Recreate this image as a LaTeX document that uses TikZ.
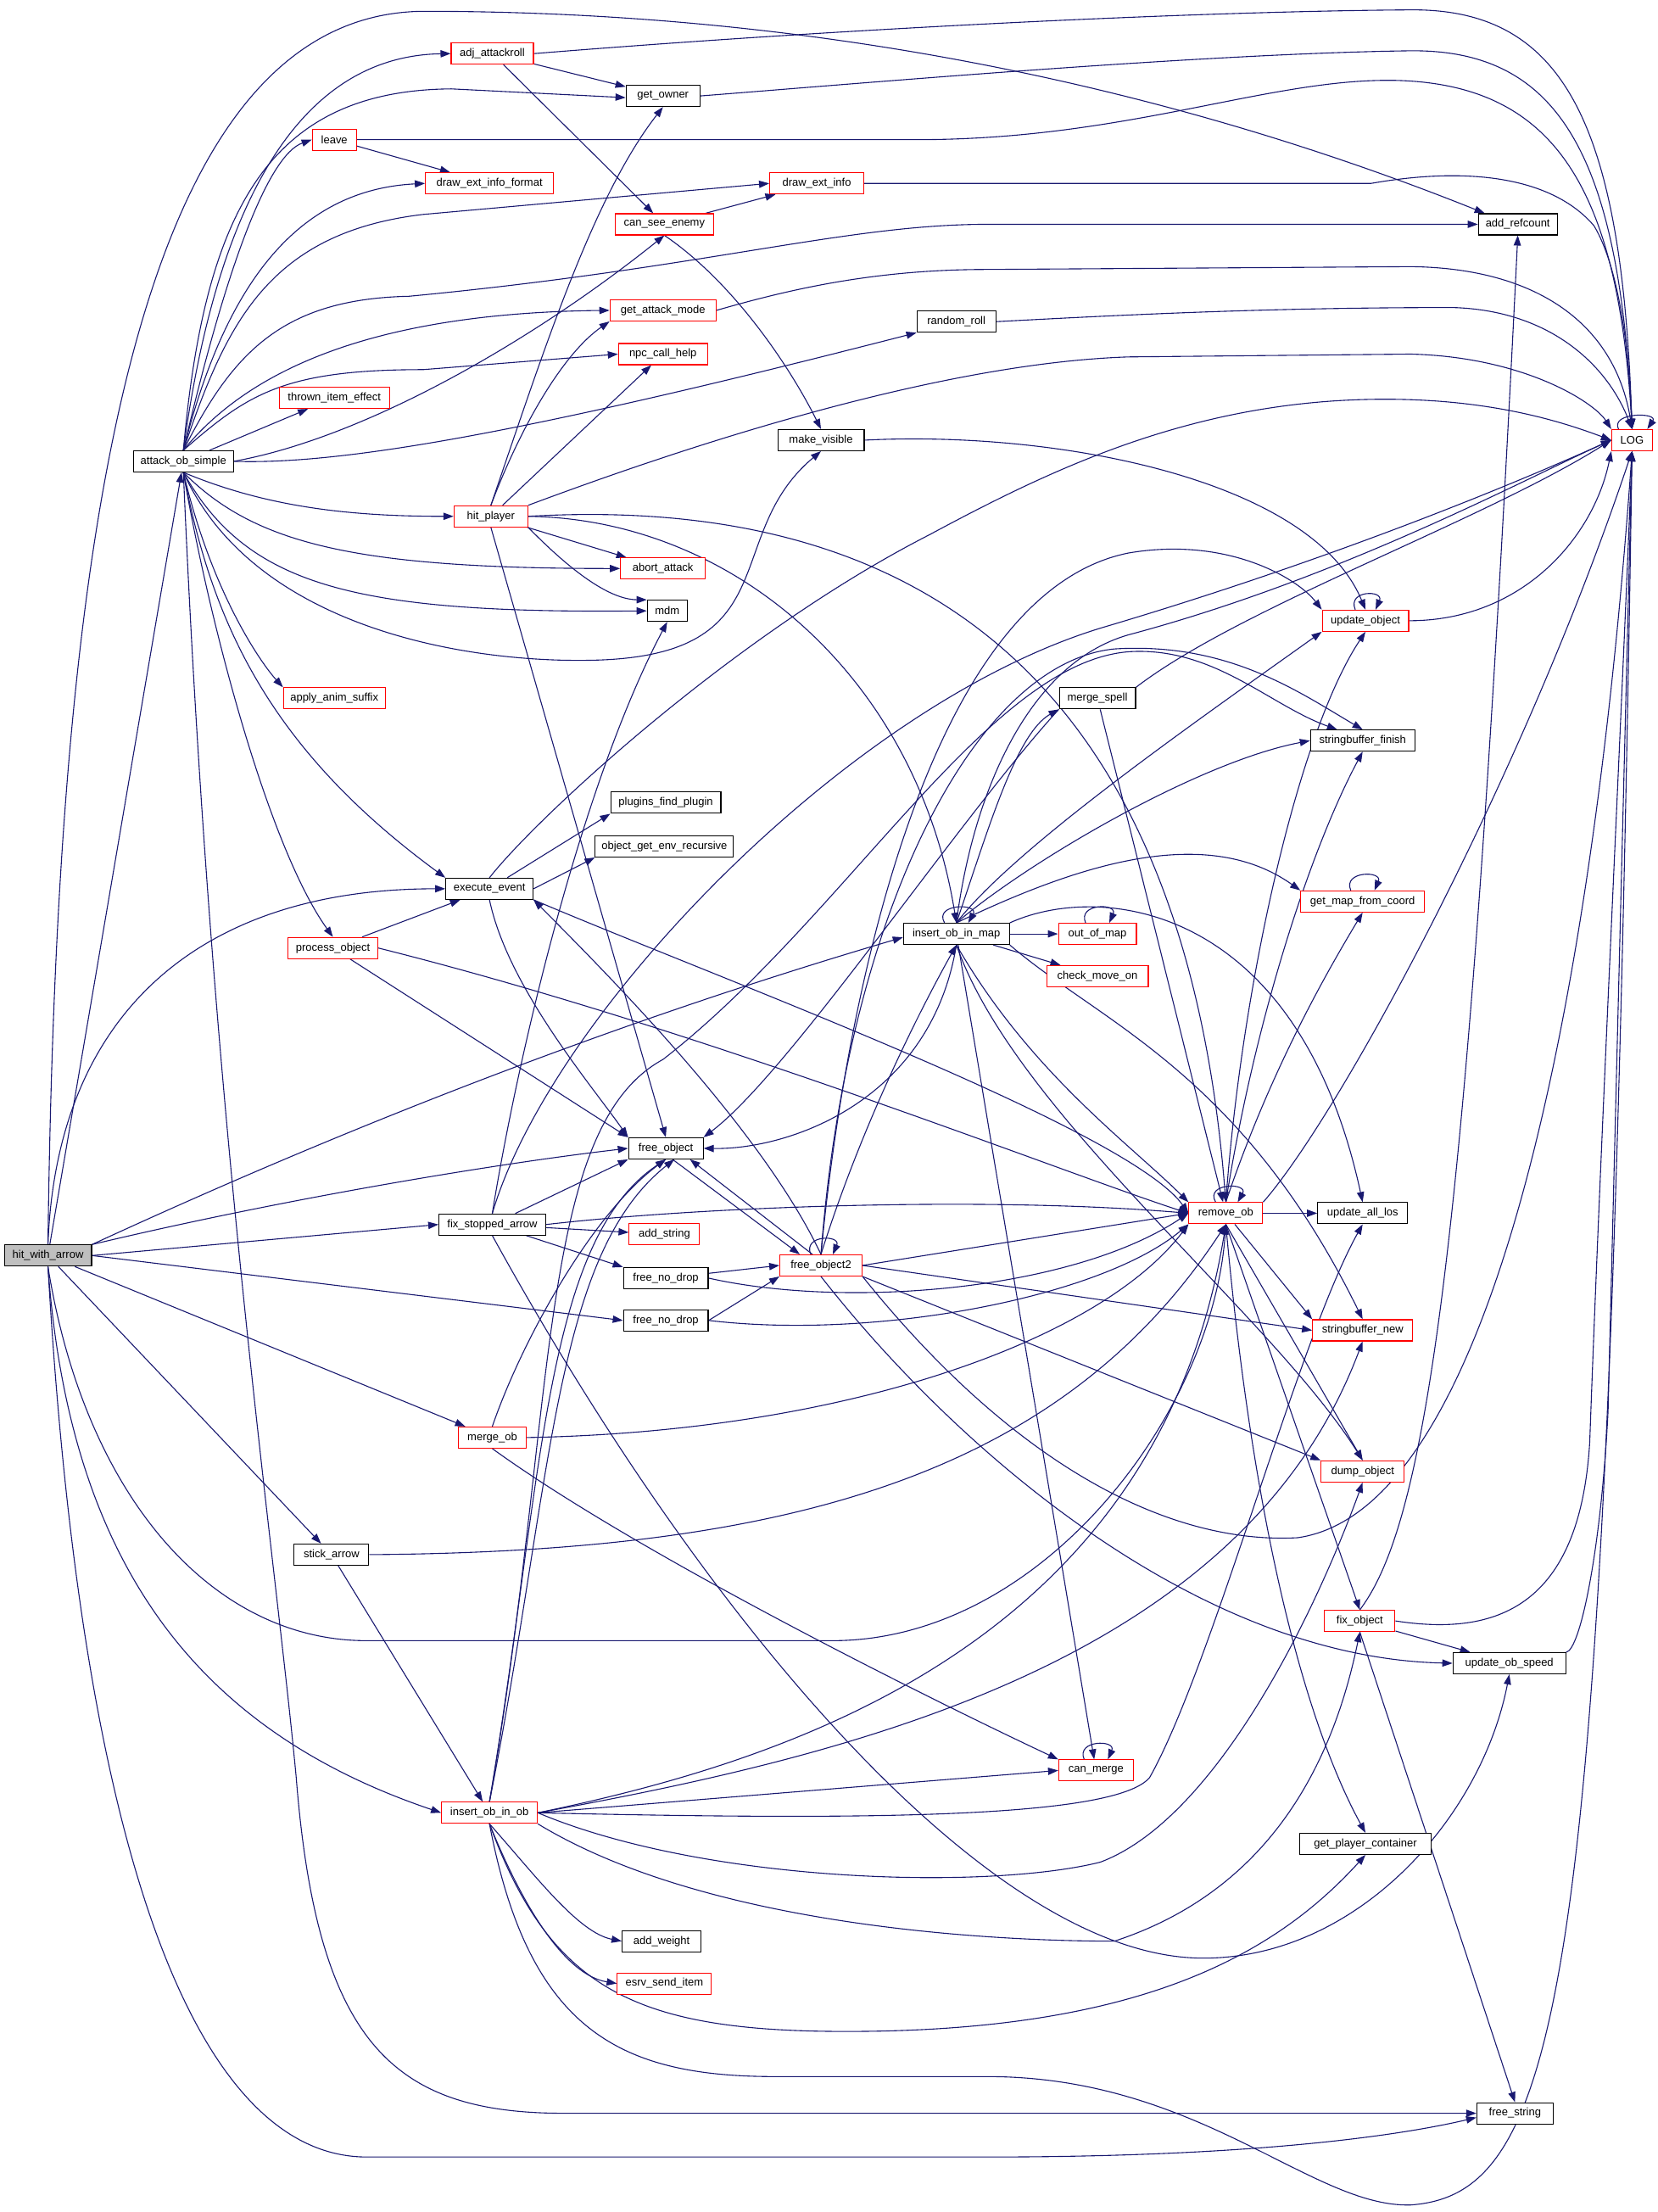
\documentclass[tikz,border=0pt]{standalone}
\usepackage{fontspec}
\setmainfont{Liberation Sans}
\usetikzlibrary{arrows.meta}
\definecolor{edgec}{HTML}{191970}
\definecolor{hwagray}{HTML}{BFBFBF}
\pgfdeclarelayer{back}
\pgfdeclarelayer{bg}
\pgfsetlayers{back,bg,main}
\begin{document}
\begin{tikzpicture}[x=1.664pt,y=-1.664pt,
  blk/.style={draw=black,line width=1.1pt,fill=white,inner sep=0pt,minimum height=25pt,font=\fontsize{13}{15}\selectfont,text=black},
  rbox/.style={blk,draw=red},
  e/.style={draw=edgec,line width=1.1pt,-{Triangle[length=12pt,width=8.5pt]}}]
\useasboundingbox (0,0) rectangle (1175,1568);
\begin{pgfonlayer}{back}
\fill[white] (0,0) rectangle (1175,1568);
\end{pgfonlayer}
% nodes
\node[blk,fill=hwagray,minimum width=103pt] (HWA) at (34,890) {hit\_with\_arrow};
\node[blk,minimum width=118pt] (AOS) at (130,327) {attack\_ob\_simple};
\node[rbox,minimum width=97pt] (AA) at (349,38) {adj\_attackroll};
\node[blk,minimum width=87pt] (GO) at (470,68) {get\_owner};
\node[rbox,minimum width=52pt] (LV) at (237,99) {leave};
\node[rbox,minimum width=151pt] (DEIF) at (347,130) {draw\_ext\_info\_format};
\node[rbox,minimum width=111pt] (DEI) at (579,130) {draw\_ext\_info};
\node[rbox,minimum width=116pt] (CSE) at (471,159) {can\_see\_enemy};
\node[blk,minimum width=93pt] (AR) at (1076,159) {add\_refcount};
\node[rbox,minimum width=125pt] (GAM) at (470,220) {get\_attack\_mode};
\node[blk,minimum width=93pt] (RR) at (678,228) {random\_roll};
\node[rbox,minimum width=105pt] (NCH) at (470,251) {npc\_call\_help};
\node[rbox,minimum width=130pt] (TIE) at (237,282) {thrown\_item\_effect};
\node[blk,minimum width=102pt] (MV) at (582,312) {make\_visible};
\node[rbox,minimum width=48pt] (LOG) at (1157,312) {LOG};
\node[rbox,minimum width=87pt] (HP) at (348,366) {hit\_player};
\node[rbox,minimum width=100pt] (AB) at (470,403) {abort\_attack};
\node[blk,minimum width=47pt] (MDM) at (473,433) {mdm};
\node[rbox,minimum width=102pt] (UO) at (968,440) {update\_object};
\node[rbox,minimum width=120pt] (AAS) at (237,495) {apply\_anim\_suffix};
\node[blk,minimum width=90pt] (MS) at (778,495) {merge\_spell};
\node[blk,minimum width=123pt] (SBF) at (966,525) {stringbuffer\_finish};
\node[blk,minimum width=130pt] (PFP) at (472,569) {plugins\_find\_plugin};
\node[blk,minimum width=163pt] (OGER) at (471,600) {object\_get\_env\_recursive};
\node[blk,minimum width=103pt] (EE) at (347,630) {execute\_event};
\node[rbox,minimum width=146pt] (GMFC) at (966,639) {get\_map\_from\_coord};
\node[blk,minimum width=125pt] (IOM) at (678,662) {insert\_ob\_in\_map};
\node[rbox,minimum width=92pt] (OOM) at (778,662) {out\_of\_map};
\node[rbox,minimum width=106pt] (PO) at (236,672) {process\_object};
\node[rbox,minimum width=120pt] (CMO) at (778,692) {check\_move\_on};
\node[blk,minimum width=88pt] (FO) at (472,814) {free\_object};
\node[rbox,minimum width=87pt] (RO) at (869,860) {remove\_ob};
\node[blk,minimum width=106pt] (UAL) at (966,860) {update\_all\_los};
\node[blk,minimum width=126pt] (FSA) at (349,868) {fix\_stopped\_arrow};
\node[rbox,minimum width=83pt] (AS) at (471,875) {add\_string};
\node[rbox,minimum width=97pt] (FO2) at (582,897) {free\_object2};
\node[blk,minimum width=100pt] (FND1) at (472,906) {free\_no\_drop};
\node[blk,minimum width=100pt] (FND2) at (472,936) {free\_no\_drop};
\node[rbox,minimum width=118pt] (SBN) at (966,943) {stringbuffer\_new};
\node[rbox,minimum width=80pt] (MO) at (349,1019) {merge\_ob};
\node[rbox,minimum width=98pt] (DO) at (966,1043) {dump\_object};
\node[blk,minimum width=88pt] (SA) at (235,1102) {stick\_arrow};
\node[rbox,minimum width=83pt] (FXO) at (964,1149) {fix\_object};
\node[blk,minimum width=133pt] (UOS) at (1070,1179) {update\_ob\_speed};
\node[rbox,minimum width=88pt] (CM) at (777,1255) {can\_merge};
\node[rbox,minimum width=113pt] (IOB) at (347,1285) {insert\_ob\_in\_ob};
\node[blk,minimum width=155pt] (GPC) at (968,1307) {get\_player\_container};
\node[blk,minimum width=93pt] (AW) at (469,1376) {add\_weight};
\node[rbox,minimum width=111pt] (ESI) at (471,1406) {esrv\_send\_item};
\node[blk,minimum width=90pt] (FS) at (1074,1498) {free\_string};

\begin{pgfonlayer}{bg}
% hit_with_arrow
\draw[e] (HWA) -- (AOS);
\draw[e] (HWA.north) .. controls (40,400) and (90,10) .. (300,8) .. controls (600,8) and (850,70) .. ([xshift=8pt]AR.north west);
\draw[e] (HWA.north) .. controls (40,720) and (140,630) .. (EE.west);
\draw[e] (HWA.north east) .. controls (200,820) and (400,735) .. ([yshift=-4pt]IOM.west);
\draw[e] (HWA.north east) .. controls (200,850) and (350,825) .. (FO.west);
\draw[e] (HWA.east) -- (FSA.west);
\draw[e] (HWA.east) -- (FND2.west);
\draw[e] (HWA) -- (MO);
\draw[e] (HWA) -- (SA);
\draw[e] (HWA.south) .. controls (60,1060) and (150,1163) .. (260,1163) -- (590,1163) .. controls (740,1163) and (860,1000) .. (RO.south);
\draw[e] (HWA.south) .. controls (50,1120) and (150,1230) .. (IOB.west);
\draw[e] (HWA.south) .. controls (60,1350) and (150,1529) .. (260,1529) -- (700,1529) .. controls (900,1529) and (1000,1512) .. ([yshift=-5pt]FS.west);
% attack_ob_simple
\draw[e] (AOS.north) .. controls (150,170) and (200,40) .. (AA.west);
\draw[e] (AOS.north) .. controls (145,150) and (190,64) .. (320,63) -- ([yshift=-2pt]GO.west);
\draw[e] (AOS.north) .. controls (160,190) and (190,110) .. (LV.west);
\draw[e] (AOS.north) .. controls (155,220) and (200,135) .. (DEIF.west);
\draw[e] (AOS.north) .. controls (160,230) and (190,165) .. (300,152) -- (DEI.west);
\draw[e] (AOS.north) .. controls (165,250) and (200,212) .. (290,210) .. controls (500,190) and (600,159) .. (700,159) -- (AR.west);
\draw[e] (AOS.north) .. controls (170,270) and (250,222) .. (GAM.west);
\draw[e] (AOS.north) .. controls (175,280) and (200,262) .. (300,262) -- (NCH.west);
\draw[e] (AOS) -- (TIE);
\draw[e] (AOS.east) .. controls (260,310) and (380,240) .. (CSE.south);
\draw[e] (AOS.east) .. controls (250,330) and (400,300) .. (RR.south west);
\draw[e] (AOS.south) .. controls (190,360) and (250,366) .. (HP.west);
\draw[e] (AOS.south) .. controls (180,385) and (250,403) .. (AB.west);
\draw[e] (AOS.south) .. controls (175,415) and (250,435) .. (MDM.west);
\draw[e] (AOS.south) .. controls (180,445) and (330,470) .. (420,468) .. controls (560,465) and (510,380) .. (MV.south);
\draw[e] (AOS.south) .. controls (150,420) and (185,470) .. (AAS.north west);
\draw[e] (AOS.south) .. controls (150,440) and (190,530) .. (EE.north west);
\draw[e] (AOS.south) .. controls (148,440) and (190,600) .. (PO.north);
\draw[e] (AOS.south) .. controls (150,800) and (195,1100) .. (210,1260) .. controls (225,1450) and (280,1498) .. (400,1498) -- (FS.west);
% adj_attackroll, leave, get_owner
\draw[e] (AA) -- (GO);
\draw[e] (AA) -- (CSE);
\draw[e] (AA.east) .. controls (600,20) and (850,8) .. (1000,7) .. controls (1110,6) and (1150,90) .. (LOG.north);
\draw[e] (LV) -- (DEIF);
\draw[e] (LV.east) -- (650,99) .. controls (800,99) and (900,55) .. (990,57) .. controls (1100,60) and (1147,130) .. (LOG.north);
\draw[e] (GO.east) .. controls (600,60) and (850,38) .. (1000,36) .. controls (1105,35) and (1148,110) .. (LOG.north);
% can_see_enemy, draw_ext_info, get_attack_mode, random_roll
\draw[e] (CSE) -- (DEI);
\draw[e] (CSE.south) .. controls (520,200) and (560,260) .. (MV.north);
\draw[e] (DEI.east) -- (972,130) .. controls (1040,118) and (1100,125) .. (1130,160) .. controls (1148,190) and (1155,250) .. (LOG.north);
\draw[e] (GAM.east) .. controls (560,205) and (620,191) .. (700,191) -- (1000,189) .. controls (1090,190) and (1145,230) .. (LOG.north);
\draw[e] (RR.east) .. controls (800,223) and (900,218) .. (1030,218) .. controls (1100,220) and (1140,260) .. (LOG.north);
% hit_player
\draw[e] (HP.north) .. controls (385,250) and (420,140) .. (GO.south);
\draw[e] (HP.north) .. controls (370,300) and (400,250) .. (GAM.south west);
\draw[e] (HP) -- (NCH);
\draw[e] (HP.north east) .. controls (450,330) and (650,258) .. (800,253) -- (1000,251) .. controls (1080,253) and (1130,285) .. (LOG.north west);
\draw[e] (HP) -- (AB);
\draw[e] (HP.south east) .. controls (400,400) and (430,425) .. (MDM.north west);
\draw[e] (HP.south) -- (FO.north);
\draw[e] (HP.east) .. controls (520,368) and (650,480) .. (IOM.north);
\draw[e] (HP.east) .. controls (650,350) and (840,480) .. (RO.north);
% make_visible, update_object, merge_spell
\draw[e] (MV.east) .. controls (750,305) and (930,340) .. (UO.north);
\draw[e] ([xshift=-12pt]UO.north) .. controls +(-6,-14) and +(6,-14) .. ([xshift=12pt]UO.north);
\draw[e] (UO.east) .. controls (1080,440) and (1130,380) .. (LOG.south west);
\draw[e] (MS.north east) .. controls (880,430) and (1050,370) .. (LOG.west);
\draw[e] (MS) -- (RO);
\draw[e] (MS.south west) .. controls (680,580) and (560,760) .. (FO.north east);
% LOG self loop
\draw[e] ([xshift=-16pt]LOG.north) .. controls +(-6,-12) and +(8,-12) .. ([xshift=18pt]LOG.north);
% execute_event, process_object
\draw[e] (EE) -- (PFP.south west);
\draw[e] (EE.east) -- (OGER.south west);
\draw[e] (EE.north) .. controls (380,580) and (520,450) .. (659,379) .. controls (750,330) and (850,283) .. (982,283) .. controls (1060,283) and (1110,300) .. (LOG.west);
\draw[e] (EE.south) .. controls (360,700) and (420,770) .. (FO.north west);
\draw[e] (EE.south east) .. controls (500,690) and (800,800) .. (RO.west);
\draw[e] (PO) -- (EE);
\draw[e] (PO) -- (FO.north west);
\draw[e] (PO.east) .. controls (500,730) and (750,830) .. (RO.west);
% insert_ob_in_map
\draw[e] ([xshift=-14pt]IOM.north) .. controls +(-8,-14) and +(8,-14) .. ([xshift=14pt]IOM.north);
\draw[e] (IOM.north) .. controls (700,590) and (720,520) .. (MS.south west);
\draw[e] (IOM) -- (OOM);
\draw[e] (IOM) -- (CMO);
\draw[e] (IOM.north) .. controls (720,600) and (850,510) .. (UO.south west);
\draw[e] (IOM.north) .. controls (730,610) and (850,540) .. (SBF.west);
\draw[e] (IOM.north) .. controls (750,620) and (850,580) .. (GMFC.north west);
\draw[e] (IOM.north east) .. controls (780,625) and (920,640) .. (UAL.north);
\draw[e] (IOM.south east) .. controls (780,725) and (880,760) .. (SBN.north);
\draw[e] (IOM.south) .. controls (730,760) and (800,810) .. (RO.north west);
\draw[e] (IOM.south) .. controls (720,790) and (900,930) .. (DO.north);
\draw[e] (IOM) -- (CM);
\draw[e] (IOM.south) .. controls (660,780) and (560,815) .. (FO.east);
\draw[e] (IOM.north) .. controls (690,560) and (730,470) .. (800,450) .. controls (950,410) and (1080,340) .. (LOG.west);
% out_of_map, get_map_from_coord, can_merge loops
\draw[e] ([xshift=-14pt]OOM.north) .. controls +(-6,-14) and +(6,-14) .. ([xshift=14pt]OOM.north);
\draw[e] ([xshift=-14pt]GMFC.north) .. controls +(-6,-14) and +(6,-14) .. ([xshift=14pt]GMFC.north);
\draw[e] ([xshift=-14pt]CM.north) .. controls +(-6,-14) and +(6,-14) .. ([xshift=14pt]CM.north);
% free_object / free_object2
\draw[e] ([xshift=8pt]FO.south) -- ([xshift=-25pt]FO2.north);
\draw[e] ([xshift=-10pt]FO2.north) -- ([xshift=-16pt]FO.south east);
\draw[e] ([xshift=-12pt]FO2.north) .. controls +(-6,-14) and +(6,-14) .. ([xshift=14pt]FO2.north);
\draw[e] (FO2.north) .. controls (540,800) and (430,690) .. (EE.south east);
\draw[e] (FO2.north) .. controls (610,800) and (650,720) .. (IOM.south);
\draw[e] (FO2.north) .. controls (600,700) and (660,420) .. (800,392) .. controls (870,380) and (920,410) .. (UO.north west);
\draw[e] (FO2.north) .. controls (600,650) and (690,470) .. (790,460) .. controls (870,455) and (920,490) .. (SBF.north);
\draw[e] (FO2.east) -- (RO.west);
\draw[e] (FO2.east) -- (SBN.west);
\draw[e] (FO2.south east) -- (DO.north west);
\draw[e] (FO2.south east) .. controls (720,1040) and (830,1095) .. (920,1090) .. controls (1060,1070) and (1130,700) .. (LOG.south);
\draw[e] (FO2.south) .. controls (680,1030) and (850,1175) .. (UOS.west);
% free_no_drop
\draw[e] (FND1) -- (FO2.west);
\draw[e] (FND1.east) .. controls (600,928) and (760,915) .. (RO.west);
\draw[e] (FND2.east) -- (FO2.south west);
\draw[e] (FND2.east) .. controls (620,950) and (780,920) .. (RO.south west);
% fix_stopped_arrow
\draw[e] (FSA) -- (FO.south west);
\draw[e] (FSA.east) .. controls (500,855) and (700,848) .. (RO.west);
\draw[e] (FSA) -- (AS);
\draw[e] (FSA) -- (FND1.north west);
\draw[e] (FSA.north) .. controls (365,760) and (410,560) .. (MDM.south);
\draw[e] (FSA.north) .. controls (390,720) and (600,500) .. (781,445) .. controls (950,395) and (1080,340) .. (LOG.west);
\draw[e] (FSA.south) .. controls (500,1150) and (700,1385) .. (850,1388) .. controls (960,1390) and (1050,1290) .. (UOS.south);
% merge_ob, stick_arrow
\draw[e] (MO.south) .. controls (450,1100) and (650,1200) .. (CM.north west);
\draw[e] (MO.north) .. controls (370,950) and (420,860) .. (FO.south);
\draw[e] (MO.east) .. controls (600,1015) and (780,950) .. (RO.south west);
\draw[e] (SA) -- (IOB);
\draw[e] (SA.east) .. controls (550,1100) and (750,1050) .. (RO.south);
% insert_ob_in_ob
\draw[e] (IOB.north) .. controls (385,1050) and (385,880) .. (FO.south);
\draw[e] (IOB.north) .. controls (392,1050) and (392,890) .. ([xshift=10pt]FO.south);
\draw[e] (IOB.east) -- (CM.west);
\draw[e] (IOB.south) .. controls (380,1330) and (410,1370) .. (AW.west);
\draw[e] (IOB.south) .. controls (370,1350) and (400,1400) .. (ESI.west);
\draw[e] (IOB.south) .. controls (390,1410) and (450,1440) .. (600,1440) .. controls (800,1440) and (900,1390) .. (GPC.south);
\draw[e] (IOB.south) .. controls (375,1440) and (440,1472) .. (550,1472) -- (700,1472) .. controls (850,1472) and (930,1565) .. (1000,1563) .. controls (1110,1555) and (1140,1400) .. (LOG.south);
\draw[e] (IOB.east) .. controls (550,1250) and (820,1170) .. (RO.south);
\draw[e] (IOB.east) .. controls (600,1290) and (790,1290) .. (815,1260) .. controls (860,1180) and (920,950) .. (UAL.south);
\draw[e] (IOB.east) .. controls (500,1335) and (700,1340) .. (780,1320) .. controls (860,1290) and (930,1150) .. (DO.south);
\draw[e] (IOB.south east) .. controls (500,1365) and (700,1376) .. (790,1376) .. controls (900,1340) and (945,1250) .. (FXO.south);
\draw[e] (IOB.east) .. controls (600,1245) and (880,1180) .. (SBN.south);
\draw[e] (IOB.north) .. controls (395,1000) and (380,800) .. (470,751) .. controls (600,650) and (700,470) .. (800,462) .. controls (860,458) and (900,500) .. ([xshift=-30pt]SBF.north);
% remove_ob
\draw[e] ([xshift=-12pt]RO.north) .. controls +(-8,-14) and +(8,-14) .. ([xshift=14pt]RO.north);
\draw[e] (RO) -- (UAL);
\draw[e] (RO) -- (SBN.north west);
\draw[e] (RO.south) -- (DO.north);
\draw[e] (RO.south) -- (FXO.north);
\draw[e] (RO.south) .. controls (890,1100) and (930,1230) .. (GPC.north);
\draw[e] (RO.north east) .. controls (950,790) and (1080,550) .. (LOG.south);
\draw[e] (RO.north) .. controls (880,700) and (920,520) .. (UO.south);
\draw[e] (RO.north) .. controls (890,720) and (930,600) .. (SBF.south);
\draw[e] (RO.north) .. controls (900,760) and (940,690) .. (GMFC.south);
% fix_object, update_ob_speed
\draw[e] (FXO.north) .. controls (1010,1080) and (1040,900) .. (AR.south);
\draw[e] (FXO.east) .. controls (1060,1160) and (1120,1140) .. (1127,1022) .. controls (1135,800) and (1150,500) .. (LOG.south);
\draw[e] (FXO) -- (UOS);
\draw[e] (FXO.south) -- (FS.north);
\draw[e] (UOS.north east) .. controls (1120,1170) and (1135,1100) .. (1140,1000) -- (LOG.south);
\end{pgfonlayer}
\end{tikzpicture}
\end{document}
